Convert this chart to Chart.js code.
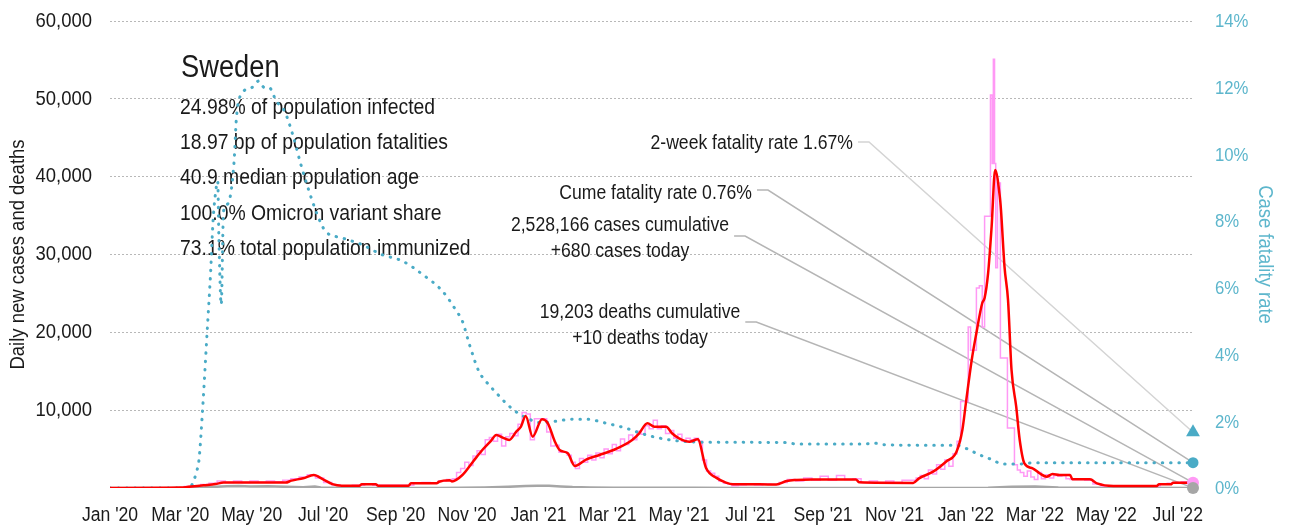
<!DOCTYPE html>
<html>
<head>
<meta charset="utf-8">
<title>Sweden</title>
<script src="https://cdn.jsdelivr.net/npm/chart.js@4.4.1/dist/chart.umd.min.js"></script>
<style>
    html, body { margin: 0; padding: 0; background: #fff; }
    #wrap { width: 1291px; height: 527px; position: relative; }
</style>
</head>
<body>
<div id="wrap"><canvas id="chart"></canvas></div>
<script>
// no narrow font installed, so text is squeezed horizontally
const FONT = "'Liberation Sans', Arial, sans-serif";
const SQUEEZE = 0.88;
const INK = "#1a1a1a";
const CYAN = "#4aabc6";
const CYAN_TEXT = "#5db6cc";

// x values are days since 1 Jan 2020
const lastDay = 925;
const tickDays = [0, 60, 121, 182, 244, 305, 366, 425, 486, 547, 609, 670, 731, 790, 851, 912];
const tickLabels = ["Jan '20", "Mar '20", "May '20", "Jul '20", "Sep '20", "Nov '20", "Jan '21", "Mar '21",
    "May '21", "Jul '21", "Sep '21", "Nov '21", "Jan '22", "Mar '22", "May '22", "Jul '22"];

// 7-day average of new cases
const avgCases = [
    [0, 0], [60, 50], [67, 150], [80, 350], [90, 500], [97, 700], [150, 700], [155, 950], [165, 1250],
    [174, 1670], [182, 1100], [190, 500], [198, 300], [213, 300], [215, 470], [227, 470], [229, 300],
    [255, 300], [257, 600], [279, 600], [281, 800], [290, 1000], [292, 850], [301, 1670], [310, 3380],
    [318, 4880], [325, 6000], [330, 6810], [335, 6510], [341, 6170], [347, 7240], [351, 7880], [355, 9250],
    [361, 6600], [369, 8830], [374, 8310], [380, 5950], [384, 4880], [391, 4460], [397, 2830], [407, 3690],
    [418, 4240], [432, 5010], [446, 6170], [452, 7030], [459, 8310], [465, 7880], [475, 7880], [480, 7030],
    [486, 6380], [495, 5950], [502, 6250], [509, 2600], [518, 1300], [526, 700], [532, 470], [555, 470],
    [569, 450], [578, 900], [586, 1030], [600, 1100], [637, 1100], [640, 730], [686, 650], [691, 1240],
    [703, 2100], [714, 3380], [723, 4670], [728, 7460], [731, 10880], [736, 16450], [740, 19920],
    [745, 23770], [747, 24400], [750, 27600], [753, 33590], [756, 40870], [760, 37440], [761, 35730],
    [764, 28450], [767, 24160], [770, 15170], [774, 10450], [777, 6170], [781, 3170], [788, 2530],
    [794, 1890], [800, 1450], [805, 1800], [811, 1670], [820, 1670], [822, 1120], [837, 1120], [843, 600],
    [857, 260], [894, 260], [896, 470], [906, 470], [908, 680], [925, 680]
];

// reported new cases
const dailyCases = [
    [0, 0], [60, 0], [67, 200], [74, 300], [81, 450], [88, 600], [95, 900], [102, 700], [109, 900],
    [116, 700], [123, 900], [130, 750], [137, 900], [144, 800], [151, 1000], [158, 1200], [165, 1400],
    [172, 1700], [179, 1300], [186, 700], [193, 400], [200, 300], [214, 350], [221, 500], [228, 350],
    [256, 350], [263, 650], [270, 700], [277, 650], [284, 900], [291, 1100],
    [294, 1200], [298, 2000], [301, 2500], [305, 3300], [308, 2900], [312, 4100], [315, 4800], [319, 4300],
    [322, 6200], [326, 6500], [329, 6000], [333, 6900], [336, 5400], [340, 6600], [343, 7000], [347, 6700],
    [350, 8200], [354, 9700], [357, 9500], [361, 6200], [364, 8900], [368, 8900], [371, 8900], [375, 7200],
    [378, 5400], [382, 5500], [385, 4600], [389, 4600], [392, 4200], [396, 3300], [399, 2500], [403, 3800],
    [406, 3300], [410, 4200], [413, 3600], [417, 4500], [420, 3900], [424, 5000], [427, 4400], [431, 5600],
    [434, 4800], [438, 6300], [441, 5600], [445, 6800], [448, 6200], [452, 7300], [455, 6900], [459, 8000],
    [462, 7600], [466, 8700], [469, 7600], [473, 8000], [476, 7000], [480, 7400], [483, 6400], [487, 6900],
    [490, 6000], [494, 6400], [497, 6200], [501, 6400], [504, 6000], [508, 3600], [511, 2200], [515, 1900],
    [518, 1500], [522, 900], [526, 600], [529, 500], [533, 300],
    [540, 400], [547, 450], [554, 400], [561, 500], [568, 450], [575, 700], [582, 1100], [589, 900],
    [596, 1300], [603, 1000], [610, 1500], [617, 1000], [624, 1600], [631, 1100], [638, 1200], [645, 700],
    [652, 900], [659, 700], [666, 900], [673, 700], [680, 1000], [687, 1000], [690, 1300], [694, 1600],
    [697, 1200], [701, 2300], [704, 1800], [708, 3000], [711, 2400], [715, 3600], [718, 2800],
    [722, 4400], [725, 6000], [728, 11100], [732, 11100], [734, 20700], [736, 17700], [739, 17700],
    [741, 25700], [744, 26000], [746, 20700], [748, 34900], [751, 34900], [753, 50500], [754, 41700],
    [755, 55100], [756, 41700], [757, 28300], [759, 39200], [762, 16700], [765, 16700], [768, 7700],
    [771, 7700], [774, 3000], [776, 2300], [779, 2000], [782, 1500], [785, 2200], [788, 1400], [791, 1100],
    [794, 2000], [797, 1200], [801, 1700], [804, 1300], [808, 1600], [811, 1500], [815, 1600], [818, 1200],
    [822, 1100], [829, 1100], [836, 1000], [843, 500], [850, 250], [894, 250], [900, 500], [906, 600],
    [912, 700], [918, 800], [925, 680]
];

// reported deaths
const dailyDeaths = [
    [0, 0], [70, 0], [80, 60], [90, 150], [100, 220], [110, 250], [120, 180], [135, 220], [150, 150],
    [165, 100], [175, 180], [180, 60], [195, 20], [210, 10], [280, 10], [300, 30], [320, 80], [340, 150],
    [355, 250], [365, 300], [375, 280], [385, 200], [395, 120], [410, 80], [430, 40], [460, 40], [500, 20],
    [540, 5], [720, 10], [750, 40], [770, 150], [790, 200], [810, 80], [840, 30], [925, 10]
];

// case fatality rate, %
const fatalityRate = [
    [0, 0], [66, 0], [70, 0.1], [74, 0.5], [76, 0.84], [79, 2.3], [83, 4.7], [86, 6.5], [88, 8.0],
    [90, 8.8], [92, 9.2], [93, 7.5], [95, 5.5], [97, 8.3], [100, 8.5], [103, 8.8], [106, 9.8], [108, 11.1],
    [112, 11.8], [121, 12.0], [127, 12.2], [132, 12.0], [136, 12.0], [142, 11.6], [149, 11.3], [156, 10.6],
    [163, 9.7], [170, 8.9], [177, 8.2], [184, 7.7], [198, 7.5], [215, 7.3], [232, 7.0], [250, 6.8],
    [267, 6.4], [284, 5.9], [296, 5.3], [301, 5.0], [307, 4.3], [315, 3.5], [321, 3.2], [330, 2.85],
    [338, 2.55], [347, 2.28], [356, 2.1], [367, 1.96], [378, 1.99], [395, 2.06], [407, 2.06], [424, 1.94],
    [441, 1.79], [458, 1.59], [475, 1.46], [492, 1.39], [518, 1.37], [578, 1.36], [586, 1.32], [645, 1.32],
    [652, 1.35], [660, 1.3], [700, 1.28], [723, 1.28], [731, 1.19], [743, 0.99], [754, 0.84], [762, 0.72],
    [777, 0.72], [790, 0.76], [925, 0.76]
];

const twoWeekRate = 1.67;
const cumeRate = 0.76;
const casesToday = 680;
const deathsToday = 10;

const headline = "Sweden";
const stats = [
    "24.98% of population infected",
    "18.97 bp of population fatalities",
    "40.9 median population age",
    "100.0% Omicron variant share",
    "73.1% total population immunized"
];

const toPoints = arr => arr.map(([d, v]) => ({ x: d, y: v }));

function narrowText(ctx, text, x, y, size, align, color, angle = 0) {
    ctx.save();
    ctx.translate(x, y);
    ctx.rotate(angle);
    ctx.scale(SQUEEZE, 1);
    ctx.font = size + "px " + FONT;
    ctx.fillStyle = color;
    ctx.textAlign = align;
    ctx.textBaseline = "middle";
    ctx.fillText(text, 0, 0);
    const w = ctx.measureText(text).width * SQUEEZE;
    ctx.restore();
    return w;
}

// headline block + leader lines to the end markers
const notesPlugin = {
    id: "notes",
    beforeDatasetsDraw(chart) {
        const { ctx, scales: { x, y, y1 } } = chart;
        const ex = x.getPixelForValue(lastDay);

        narrowText(ctx, headline, 181, 68, 31, "left", INK);
        stats.forEach((s, i) => narrowText(ctx, s, 180, 108 + i * 35.2, 22, "left", INK));

        const notes = [
            { lines: ["2-week fatality rate " + twoWeekRate.toFixed(2) + "%"], x: 853, y: 143, align: "right", ly: 142, ty: y1.getPixelForValue(twoWeekRate), color: "#d4d4d4" },
            { lines: ["Cume fatality rate " + cumeRate.toFixed(2) + "%"], x: 752, y: 193, align: "right", ly: 190, ty: y1.getPixelForValue(cumeRate), color: "#b5b5b5" },
            { lines: ["2,528,166 cases cumulative", "+" + casesToday + " cases today"], x: 620, y: 225, align: "center", ly: 236, ty: y.getPixelForValue(casesToday), color: "#b5b5b5" },
            { lines: ["19,203 deaths cumulative", "+" + deathsToday + " deaths today"], x: 640, y: 312, align: "center", ly: 322, ty: y.getPixelForValue(deathsToday), color: "#b5b5b5" }
        ];

        notes.forEach(n => {
            const widths = n.lines.map((t, i) => narrowText(ctx, t, n.x, n.y + i * 26, 20, n.align, INK));
            const sx = (n.align === "right" ? n.x : n.x + widths[0] / 2) + 5;
            ctx.save();
            ctx.strokeStyle = n.color;
            ctx.lineWidth = 1.5;
            ctx.beginPath();
            ctx.moveTo(sx, n.ly);
            ctx.lineTo(sx + 11, n.ly);
            ctx.lineTo(ex, n.ty);
            ctx.stroke();
            ctx.restore();
        });
    }
};

// tick labels and axis titles, placed from the chart's own scales
const axisTextPlugin = {
    id: "axisText",
    afterDraw(chart) {
        const { ctx, chartArea, scales: { x, y, y1 } } = chart;
        y.ticks.filter(t => t.value > 0).forEach(t =>
            narrowText(ctx, t.value.toLocaleString("en-US"), chartArea.left - 18, y.getPixelForValue(t.value), 21, "right", INK));
        y1.ticks.forEach(t => narrowText(ctx, t.value + "%", chartArea.right + 22, y1.getPixelForValue(t.value) + 1, 19, "left", CYAN_TEXT));
        tickDays.forEach((d, i) => narrowText(ctx, tickLabels[i], x.getPixelForValue(d), chartArea.bottom + 27, 20, "center", INK));

        const midY = (chartArea.top + chartArea.bottom) / 2;
        narrowText(ctx, "Daily new cases and deaths", 18, midY, 21, "center", INK, -Math.PI / 2);
        narrowText(ctx, "Case fatality rate", 1265, midY, 21, "center", CYAN_TEXT, Math.PI / 2);
    }
};

new Chart(document.getElementById("chart"), {
    type: "line",
    data: {
        datasets: [
            {
                label: "7-day average",
                data: toPoints(avgCases),
                borderColor: "#ff0000",
                borderWidth: 2.5,
                pointRadius: 0,
                cubicInterpolationMode: "monotone",
                yAxisID: "y",
                order: 1
            },
            {
                label: "Case fatality rate",
                data: toPoints(fatalityRate),
                borderColor: CYAN,
                borderWidth: 3,
                borderDash: [0.5, 7.8],
                borderCapStyle: "round",
                pointRadius: 0,
                cubicInterpolationMode: "monotone",
                yAxisID: "y1",
                order: 2
            },
            {
                label: "Daily cases",
                data: toPoints(dailyCases),
                borderColor: "#ff99f5",
                borderWidth: 1.5,
                pointRadius: 0,
                stepped: "middle",
                yAxisID: "y",
                order: 3
            },
            {
                label: "Daily deaths",
                data: toPoints(dailyDeaths),
                borderColor: "#a6a6a6",
                borderWidth: 2.5,
                pointRadius: 0,
                yAxisID: "y",
                order: 4
            },
            {
                data: [{ x: lastDay, y: casesToday }],
                showLine: false, pointRadius: 6, pointBackgroundColor: "#ff99f5", pointBorderWidth: 0,
                yAxisID: "y", clip: false, order: 0
            },
            {
                data: [{ x: lastDay, y: deathsToday }],
                showLine: false, pointRadius: 6, pointBackgroundColor: "#a6a6a6", pointBorderWidth: 0,
                yAxisID: "y", clip: false, order: -1
            },
            {
                data: [{ x: lastDay, y: cumeRate }],
                showLine: false, pointRadius: 5.5, pointBackgroundColor: CYAN, pointBorderWidth: 0,
                yAxisID: "y1", clip: false, order: 0
            },
            {
                data: [{ x: lastDay, y: twoWeekRate }],
                showLine: false, pointStyle: "triangle", pointRadius: 8, pointBackgroundColor: CYAN, pointBorderWidth: 0,
                yAxisID: "y1", clip: false, order: 0
            }
        ]
    },
    options: {
        responsive: true,
        maintainAspectRatio: false,
        animation: false,
        devicePixelRatio: 1,
        layout: { padding: { top: 21, right: 0, left: 0, bottom: 0 } },
        plugins: {
            legend: { display: false },
            tooltip: { enabled: false }
        },
        scales: {
            x: {
                type: "linear",
                min: 0,
                max: lastDay,
                afterBuildTicks: s => { s.ticks = tickDays.map(v => ({ value: v })); },
                afterFit: s => { s.height = 39; },
                grid: { display: false },
                border: { display: false },
                ticks: { display: false }
            },
            y: {
                position: "left",
                min: 0,
                max: 60000,
                afterFit: s => { s.width = 110; },
                grid: { color: c => c.tick.value === 0 ? "rgba(0,0,0,0)" : "#b8b8b8", lineWidth: 1, drawTicks: false },
                border: { display: false, dash: [2, 2] },
                ticks: { display: false, stepSize: 10000 }
            },
            y1: {
                position: "right",
                min: 0,
                max: 14,
                afterFit: s => { s.width = 98; },
                grid: { display: false },
                border: { display: false },
                ticks: { display: false, stepSize: 2 }
            }
        }
    },
    plugins: [notesPlugin, axisTextPlugin]
});
</script>
</body>
</html>
